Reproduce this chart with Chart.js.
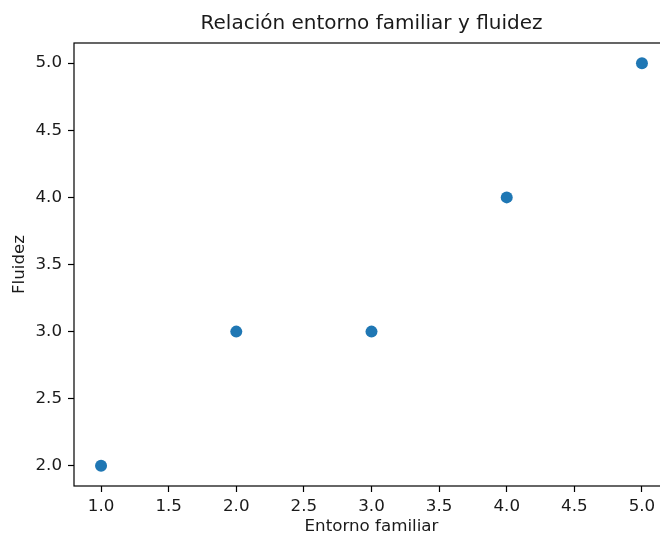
<!DOCTYPE html>
<html>
<head>
<meta charset="utf-8">
<script src="https://cdn.jsdelivr.net/npm/chart.js@4"></script>
<style>
  html, body { margin: 0; padding: 0; background: #fff; overflow: hidden; }
  canvas { display: block; }
</style>
</head>
<body>
<canvas id="chart" width="680" height="538" style="width:680px;height:538px"></canvas>
<script>
// data
const entornoFamiliar = [1, 2, 3, 4, 5];
const fluidez = [2, 3, 3, 4, 5];

const FONT = 'DejaVu Sans';
const TEXT = '#1a1a1a';
const LABEL_SIZE = 16.7;

// draw matplotlib-like spines around the plot area
const spines = {
    id: 'spines',
    afterDraw(chart) {
        const { ctx, chartArea: a } = chart;
        ctx.save();
        ctx.strokeStyle = '#000';
        ctx.lineWidth = 1.2;
        ctx.strokeRect(a.left, a.top, a.right - a.left, a.bottom - a.top);
        ctx.restore();
    }
};

const fmt = (v) => Number(v).toFixed(1);

new Chart(document.getElementById('chart').getContext('2d'), {
    type: 'scatter',
    data: {
        datasets: [{
            data: entornoFamiliar.map((x, i) => ({ x: x, y: fluidez[i] })),
            backgroundColor: '#1f77b4',
            borderWidth: 0,
            pointRadius: 6,
            pointHoverRadius: 6
        }]
    },
    options: {
        responsive: false,
        animation: false,
        layout: { padding: { left: 0, right: 11, top: 0, bottom: 0 } },
        plugins: {
            legend: { display: false },
            tooltip: { enabled: false },
            title: {
                display: true,
                fullSize: false,   // centre over the plot area like matplotlib
                text: 'Relación entorno familiar y fluidez',
                color: TEXT,
                font: { family: FONT, size: 20, weight: 'normal' },
                padding: { top: 12, bottom: 7 }
            }
        },
        scales: {
            x: {
                type: 'linear',
                min: 0.8,
                max: 5.2,
                afterFit(scale) { scale.height = 52; },
                border: { display: false },
                grid: { drawOnChartArea: false, drawTicks: true, tickLength: 6, tickColor: '#000', tickWidth: 1.2 },
                ticks: {
                    stepSize: 0.5,
                    includeBounds: false,
                    color: TEXT,
                    padding: 5,
                    maxRotation: 0,
                    font: { family: FONT, size: LABEL_SIZE },
                    callback: fmt
                },
                title: {
                    display: true,
                    text: 'Entorno familiar',
                    color: TEXT,
                    font: { family: FONT, size: LABEL_SIZE },
                    padding: { top: 0, bottom: 1 }
                }
            },
            y: {
                type: 'linear',
                min: 1.85,
                max: 5.15,
                afterFit(scale) { scale.width = 74; },
                border: { display: false },
                grid: { drawOnChartArea: false, drawTicks: true, tickLength: 6, tickColor: '#000', tickWidth: 1.2 },
                ticks: {
                    stepSize: 0.5,
                    includeBounds: false,
                    color: TEXT,
                    padding: 6,
                    font: { family: FONT, size: LABEL_SIZE },
                    callback: fmt
                },
                title: {
                    display: true,
                    text: 'Fluidez',
                    color: TEXT,
                    font: { family: FONT, size: LABEL_SIZE },
                    padding: { top: 10, bottom: 0 }
                }
            }
        }
    },
    plugins: [spines]
});
</script>
</body>
</html>
